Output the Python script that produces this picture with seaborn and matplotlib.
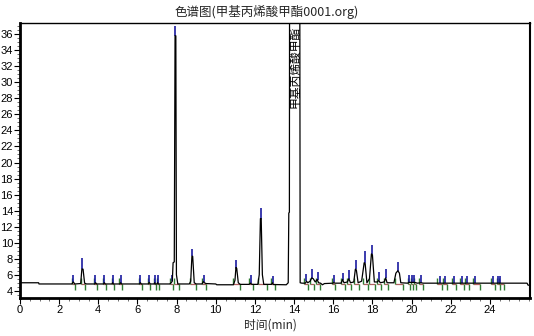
import numpy as np
import pandas as pd
import matplotlib
matplotlib.use("Agg")
import matplotlib.pyplot as plt
from matplotlib.ticker import MultipleLocator
import seaborn as sns

# ---- data ----
trace_t = [0.0, 0.95, 0.97, 2.65, 2.72, 2.80, 3.10, 3.16, 3.22, 3.30, 3.40,
           3.82, 3.86, 3.92, 4.27, 4.31, 4.36, 4.70, 4.73, 4.78, 5.10, 5.14, 5.20,
           6.10, 6.15, 6.20, 6.55, 6.60, 6.65, 6.85, 6.88, 6.92, 7.00, 7.03, 7.08,
           7.65, 7.72, 7.78, 7.82, 7.88, 7.92, 7.96, 7.99, 8.06,
           8.65, 8.72, 8.78, 8.82, 8.90, 9.00, 9.30, 9.36, 9.42, 9.50, 10.00, 10.05,
           10.90, 10.98, 11.03, 11.07, 11.15, 11.25, 11.70, 11.78, 11.85,
           12.15, 12.22, 12.28, 12.32, 12.38, 12.45, 12.85, 12.90, 12.95,
           13.60, 13.70, 13.73, 13.76, 13.77, 14.29, 14.31, 14.40,
           14.58, 14.63, 14.70, 14.82, 14.90, 14.98, 15.08, 15.18, 15.25, 15.35,
           15.45, 15.55, 16.00, 16.03, 16.08, 16.40, 16.48, 16.55, 16.72, 16.80,
           16.88, 17.05, 17.13, 17.18, 17.27, 17.45, 17.58, 17.63, 17.72, 17.85,
           17.95, 18.00, 18.10, 18.25, 18.33, 18.40, 18.60, 18.68, 18.75, 19.10,
           19.20, 19.30, 19.38, 19.45, 19.80, 19.86, 20.15, 20.30, 20.48, 20.60,
           25.90, 25.95, 26.10]
trace_v = [5.0, 5.0, 4.85, 4.85, 5.1, 4.85, 4.9, 6.7, 6.7, 4.95, 4.85,
           4.85, 5.0, 4.85, 4.85, 5.0, 4.85, 4.85, 5.0, 4.85, 4.85, 5.0, 4.85,
           4.85, 5.0, 4.85, 4.85, 5.05, 4.85, 4.85, 5.0, 4.85, 4.85, 5.0, 4.85,
           4.85, 5.0, 5.2, 7.5, 7.6, 35.8, 35.8, 6.0, 4.85,
           4.85, 5.2, 8.3, 8.3, 5.0, 4.85, 4.85, 5.15, 5.0, 4.9, 4.85, 4.75,
           4.75, 5.3, 6.9, 6.8, 5.0, 4.8, 4.8, 4.95, 4.8,
           4.8, 6.0, 13.0, 13.0, 6.0, 4.8, 4.8, 5.0, 4.78,
           4.75, 5.0, 13.7, 13.8, 45.0, 45.0, 5.0, 4.95,
           4.95, 5.2, 5.0, 5.2, 5.6, 5.5, 5.1, 5.4, 5.0, 4.95,
           4.75, 4.9, 4.95, 5.05, 4.95, 4.95, 5.4, 5.0, 5.1, 5.5,
           5.0, 5.1, 6.7, 6.6, 5.0, 5.2, 7.5, 7.4, 5.0, 5.5,
           8.6, 8.5, 5.1, 5.1, 5.3, 5.0, 5.1, 5.6, 5.0, 5.0,
           6.2, 6.5, 6.2, 5.0, 4.95, 5.05, 5.05, 4.95, 5.0, 4.95,
           4.95, 4.7, 4.7]

peak_t = [2.72, 3.19, 3.85, 4.30, 4.73, 5.14, 6.15, 6.60, 6.88, 7.03, 7.74,
          7.94, 8.80, 9.38, 11.03, 11.78, 12.29, 12.90, 14.63, 14.90, 15.20,
          16.03, 16.49, 16.80, 17.15, 17.61, 17.97, 18.33, 18.70, 19.30, 19.86,
          20.00, 20.15, 20.48, 21.45, 21.70, 22.15, 22.60, 22.83, 23.24, 24.16,
          24.42, 24.50]
peak_h = [5.1, 6.7, 5.0, 5.0, 5.0, 5.0, 5.0, 5.05, 5.0, 5.0, 5.2,
          35.8, 8.3, 5.15, 6.9, 4.95, 13.0, 5.0, 5.2, 5.6, 5.4,
          5.05, 5.4, 5.5, 6.7, 7.5, 8.6, 5.3, 5.6, 6.5, 5.05,
          5.05, 5.05, 5.0, 5.0, 5.0, 5.0, 5.0, 5.0, 5.0, 5.0,
          5.0, 5.0]
marker_top = [6.0, 8.1, 5.95, 6.0, 5.95, 6.0, 6.0, 6.0, 5.95, 5.95, 5.95,
              37.0, 9.2, 6.0, 7.85, 6.0, 14.3, 5.9, 6.1, 6.7, 6.3,
              6.0, 6.2, 6.6, 7.9, 9.0, 9.7, 6.3, 6.7, 7.6, 6.0,
              6.0, 6.0, 6.0, 5.9, 5.8, 5.8, 5.9, 5.8, 5.9, 5.8,
              5.8, 5.8]
start_t = [2.65, 3.12, 3.80, 4.25, 4.68, 5.08, 6.10, 6.55, 6.83, 6.98, 7.68,
           7.85, 8.68, 9.30, 10.90, 11.68, 12.15, 12.82, 14.52, 14.80, 15.10,
           15.95, 16.40, 16.72, 17.05, 17.50, 17.85, 18.25, 18.60, 19.15, 19.80,
           19.95, 20.10, 20.40, 21.30, 21.60, 22.05, 22.50, 22.75, 23.15, 24.05,
           24.35, 24.45]
end_t = [2.80, 3.34, 3.93, 4.38, 4.80, 5.20, 6.22, 6.66, 6.93, 7.08, 7.80,
         8.10, 8.98, 9.52, 11.22, 11.88, 12.62, 13.00, 14.70, 15.00, 15.30,
         16.10, 16.58, 16.90, 17.30, 17.75, 18.12, 18.45, 18.80, 19.55, 19.92,
         20.08, 20.25, 20.58, 21.55, 21.80, 22.25, 22.70, 22.95, 23.50, 24.28,
         24.52, 24.70]
baseline_level = 4.88
x_ticks = [0, 2, 4, 6, 8, 10, 12, 14, 16, 18, 20, 22, 24]
y_ticks = [4, 6, 8, 10, 12, 14, 16, 18, 20, 22, 24, 26, 28, 30, 32, 34, 36]
label_text = "甲基丙烯酸甲酯"
label_t = 14.05
title_text = "色谱图(甲基丙烯酸甲酯0001.org)"
xlabel_text = "时间(min)"

sns.set_theme(style="white")
plt.rcParams['font.family'] = ['Noto Sans CJK SC', 'DejaVu Sans']

fig = plt.figure(figsize=(5.34, 3.36), dpi=100)
ax = fig.add_axes([20/534, 38/336, 510/534, 275/336])

# integration baselines (brown) and markers
ax.hlines([baseline_level]*len(start_t), start_t, end_t, color="#b06060", lw=0.9, zorder=1)
ax.vlines(start_t, baseline_level, baseline_level + 0.7, color="#2e7d32", lw=1.0, zorder=2)
ax.vlines(end_t, baseline_level - 0.75, baseline_level, color="#2e7d32", lw=1.0, zorder=2)
ax.vlines(peak_t, peak_h, marker_top, color="#1a1aa0", lw=1.2, zorder=3)

df = pd.DataFrame({"t": trace_t, "v": trace_v})
sns.lineplot(data=df, x="t", y="v", sort=False, estimator=None, color="black",
             lw=0.9, ax=ax, zorder=4)

ax.text(label_t, 37.0, label_text, rotation=90, ha="center", va="top",
        fontsize=8.5, color="black", zorder=5)

ax.set_xlim(0, 26.05)
ax.set_ylim(3.1, 37.4)
ax.set_xticks(x_ticks)
ax.set_yticks(y_ticks)
ax.xaxis.set_minor_locator(MultipleLocator(0.5))
ax.yaxis.set_minor_locator(MultipleLocator(0.5))
ax.tick_params(axis="both", which="major", direction="out", length=4, width=0.8,
               labelsize=8, pad=1, colors="black")
ax.tick_params(axis="both", which="minor", direction="out", length=2, width=0.6,
               colors="#555555")
ax.tick_params(axis="x", which="both", bottom=True)
ax.tick_params(axis="y", which="both", left=True)
for lab in ax.get_xticklabels() + ax.get_yticklabels():
    lab.set_family(['Liberation Sans', 'DejaVu Sans'])
ax.set_xlabel("")
ax.set_ylabel("")
for side, lw in [("left", 2.0), ("bottom", 2.0), ("top", 1.0), ("right", 1.5)]:
    ax.spines[side].set_visible(True)
    ax.spines[side].set_color("black")
    ax.spines[side].set_linewidth(lw)

fig.text(0.5, 1 - 12/336, title_text, ha="center", va="center", fontsize=9)
fig.text(270/534, 1 - 325/336, xlabel_text, ha="center", va="center", fontsize=8.5)

fig.savefig("out.png", dpi=100, facecolor="white")
